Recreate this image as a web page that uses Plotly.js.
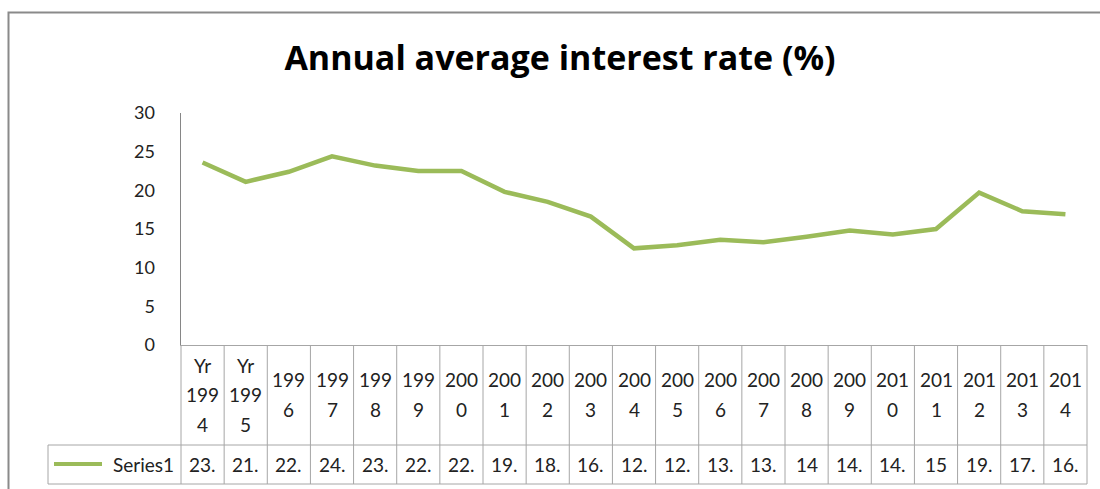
<!DOCTYPE html>
<html>
<head>
<meta charset="utf-8">
<script src="https://cdn.plot.ly/plotly-3.0.1.min.js"></script>
<style>html,body{margin:0;padding:0;background:#fff;}#chart{width:1100px;height:489px;}</style>
</head>
<body>
<div id="chart"></div>
<script>
// ---- data ----
var categories = ["Yr 1994","Yr 1995","1996","1997","1998","1999","2000","2001","2002","2003","2004","2005","2006","2007","2008","2009","2010","2011","2012","2013","2014"];
var headerLabels = ["Yr<br>199<br>4","Yr<br>199<br>5","199<br>6","199<br>7","199<br>8","199<br>9","200<br>0","200<br>1","200<br>2","200<br>3","200<br>4","200<br>5","200<br>6","200<br>7","200<br>8","200<br>9","201<br>0","201<br>1","201<br>2","201<br>3","201<br>4"];
var series1 = [23.6, 21.1, 22.4, 24.4, 23.2, 22.5, 22.5, 19.8, 18.5, 16.6, 12.5, 12.9, 13.6, 13.3, 14, 14.8, 14.3, 15, 19.7, 17.3, 16.9];
var seriesName = "Series1";
var yTicks = [0, 5, 10, 15, 20, 25, 30];
var chartTitle = "Annual average interest rate (%)";

// ---- layout helpers ----
var FONT = "Lato, 'Open Sans', sans-serif";
var N = categories.length;
var W = 1100, H = 489;
var M = {l: 181, r: 13, t: 113, b: 144};
var plotW = W - M.l - M.r, plotH = H - M.t - M.b;
function px2paperY(dy) { return -dy / plotH; }          // dy pixels below the x axis
function absY(y) { return (M.t + plotH - y) / plotH; }  // absolute page pixel -> paper
function px2paperX(x) { return (x - M.l) / plotW; }
var gridColor = "#a6a6a6";
var headerBottom = 100, tableBottom = 139, legendLeft = 48;
var lineGap = 29.5, headerMid = 49.5, valueMid = 119;

var shapes = [];
var annotations = [];

// vertical grid lines for the data table
for (var i = 0; i <= N; i++) {
  shapes.push({type: "line", xref: "paper", yref: "paper",
    x0: i / N, x1: i / N, y0: 0, y1: px2paperY(tableBottom),
    line: {color: gridColor, width: 1}});
}
// horizontal lines
shapes.push({type: "line", xref: "paper", yref: "paper",
  x0: px2paperX(legendLeft), x1: 1, y0: px2paperY(headerBottom), y1: px2paperY(headerBottom),
  line: {color: gridColor, width: 1}});
shapes.push({type: "line", xref: "paper", yref: "paper",
  x0: px2paperX(legendLeft), x1: 1, y0: px2paperY(tableBottom), y1: px2paperY(tableBottom),
  line: {color: gridColor, width: 1}});
shapes.push({type: "line", xref: "paper", yref: "paper",
  x0: px2paperX(legendLeft), x1: px2paperX(legendLeft), y0: px2paperY(headerBottom), y1: px2paperY(tableBottom),
  line: {color: gridColor, width: 1}});
// legend key line
shapes.push({type: "line", xref: "paper", yref: "paper",
  x0: px2paperX(54), x1: px2paperX(102), y0: px2paperY(valueMid), y1: px2paperY(valueMid),
  line: {color: "#9bbb59", width: 4}});
// outer chart frame
shapes.push({type: "rect", xref: "paper", yref: "paper",
  x0: px2paperX(8.5), x1: px2paperX(1110), y0: absY(12.5), y1: absY(520),
  line: {color: "#8a8a8a", width: 2}, fillcolor: "rgba(0,0,0,0)"});

// header labels (wrapped) and value cells
for (var c = 0; c < N; c++) {
  var parts = headerLabels[c].split("<br>");
  var k = parts.length;
  for (var j = 0; j < k; j++) {
    var off = headerMid + (j - (k - 1) / 2) * lineGap;
    annotations.push({xref: "x", yref: "paper", x: c, y: 0, yshift: -off,
      text: parts[j], showarrow: false, xanchor: "center", yanchor: "middle",
      font: {family: FONT, size: 19, color: "#222"}});
  }
  var v = series1[c];
  var cellText = Number.isInteger(v) ? String(v) : Math.floor(v) + ".";
  annotations.push({xref: "x", yref: "paper", x: c, y: 0, yshift: -valueMid,
    text: cellText, showarrow: false, xanchor: "center", yanchor: "middle",
    font: {family: FONT, size: 19, color: "#222"}});
}
annotations.push({xref: "paper", yref: "paper", x: px2paperX(176), y: 0, yshift: -valueMid,
  text: seriesName, showarrow: false, xanchor: "right", yanchor: "middle",
  font: {family: FONT, size: 19, color: "#222"}});

var trace = {
  x: categories, y: series1, type: "scatter", mode: "lines", name: seriesName,
  line: {color: "#9bbb59", width: 4.5}, cliponaxis: false
};

var layout = {
  width: W, height: H,
  margin: M,
  paper_bgcolor: "#fff", plot_bgcolor: "#fff",
  showlegend: false,
  title: {text: "<b>" + chartTitle + "</b>", x: 560 / W, xanchor: "center",
    y: 1 - 58 / H, yanchor: "middle", yref: "container",
    font: {family: "'Open Sans', Lato, sans-serif", size: 34, color: "#000"}},
  xaxis: {type: "category", range: [-0.5, N - 0.5], showticklabels: false,
    showgrid: false, zeroline: false, showline: true, linecolor: gridColor, linewidth: 1,
    ticks: "", fixedrange: true},
  yaxis: {range: [0, 30], tickvals: yTicks, ticktext: yTicks.map(String),
    showgrid: false, zeroline: false, showline: true, linecolor: "#868686", linewidth: 1.5,
    ticks: "outside", ticklen: 21, tickcolor: "rgba(0,0,0,0)",
    tickfont: {family: FONT, size: 18, color: "#222"}, fixedrange: true},
  shapes: shapes,
  annotations: annotations
};

Plotly.newPlot("chart", [trace], layout, {displayModeBar: false, staticPlot: true});
</script>
</body>
</html>
